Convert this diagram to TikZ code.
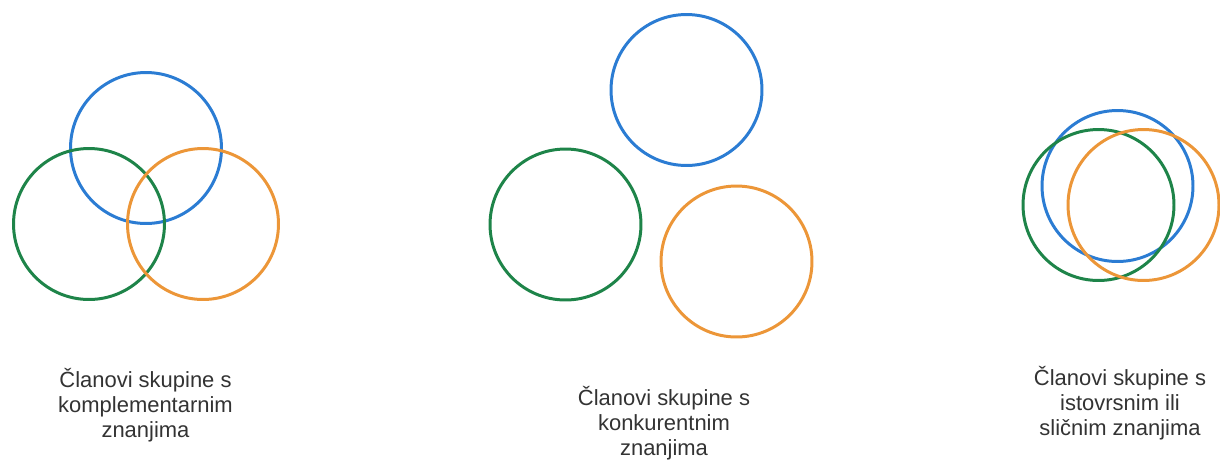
\documentclass[tikz,border=0pt]{standalone}
\usepackage{fontspec}
\setmainfont{Liberation Sans}
\usepackage{xcolor}
\usepackage{tikz}
\usetikzlibrary{positioning}
\definecolor{grpBlue}{HTML}{2B7CD3}
\definecolor{grpGreen}{HTML}{1E8449}
\definecolor{grpOrange}{HTML}{EC9638}
\definecolor{grpInk}{HTML}{333333}
\tikzset{
  grp diagram/.style={x=0.02cm, y=-0.02cm},
  grp ring/.style={circle, draw, fill=none, line width=1.7pt,
    minimum size=3.02cm, inner sep=0pt},
  grp blue/.style={grp ring, draw=grpBlue},
  grp green/.style={grp ring, draw=grpGreen},
  grp orange/.style={grp ring, draw=grpOrange},
  grp caption/.style={font=\fontsize{12.5}{14.2}\selectfont, text=grpInk,
    align=center, inner sep=0pt}
}
\begin{document}
\begin{tikzpicture}[grp diagram]
\useasboundingbox (0,0) rectangle (1220,464);
% komplementarna znanja
\node[grp blue] (blueA) at (146,148) {};
\node[grp green] (greenA) at (89,224) {};
\node[grp orange] (orangeA) at (203,224) {};
\node[grp caption] (capA) at (145.5,405) {Članovi skupine s\\komplementarnim\\znanjima};
% konkurentna znanja
\node[grp blue] (blueB) at (686.5,90) {};
\node[grp green] (greenB) at (565.5,224.5) {};
\node[grp orange] (orangeB) at (736.5,261.5) {};
\node[grp caption] (capB) at (664,423) {Članovi skupine s\\konkurentnim\\znanjima};
% istovrsna znanja
\node[grp blue] (blueC) at (1117.5,186) {};
\node[grp green] (greenC) at (1098.5,205) {};
\node[grp orange] (orangeC) at (1143.5,205) {};
\node[grp caption] (capC) at (1120,403) {Članovi skupine s\\istovrsnim ili\\sličnim znanjima};
\end{tikzpicture}
\end{document}
